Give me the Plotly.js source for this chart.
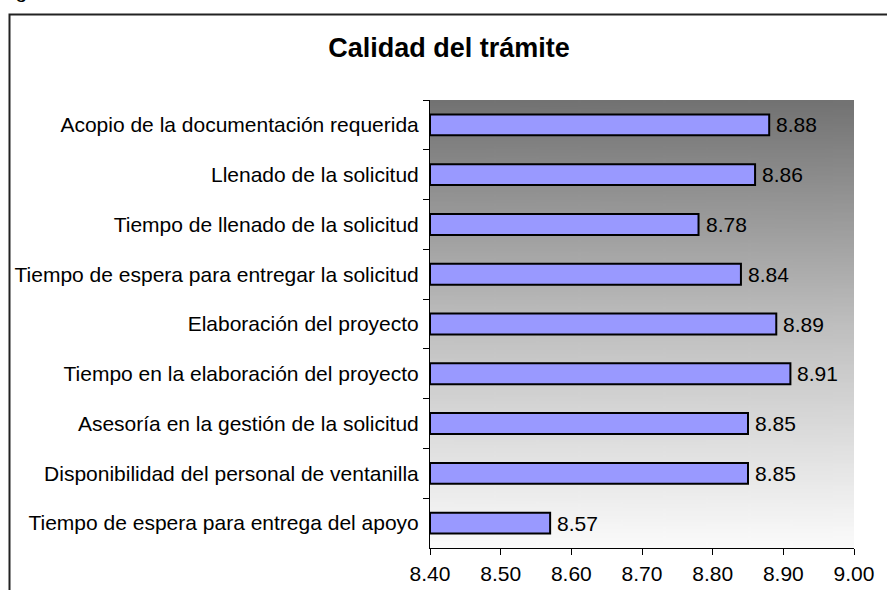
<!DOCTYPE html>
<html><head><meta charset="utf-8">
<script src="https://cdn.plot.ly/plotly-3.0.1.min.js"></script>
<style>html,body{margin:0;padding:0;background:#fff}#chart{width:887px;height:590px}</style>
</head><body><div id="chart"></div>
<script>
const categories = [
  "Acopio de la documentación requerida",
  "Llenado de la solicitud",
  "Tiempo de llenado de la solicitud",
  "Tiempo de espera para entregar la solicitud",
  "Elaboración del proyecto",
  "Tiempo en la elaboración del proyecto",
  "Asesoría en la gestión de la solicitud",
  "Disponibilidad del personal de ventanilla",
  "Tiempo de espera para entrega del apoyo"
];
const values = [8.88, 8.86, 8.78, 8.84, 8.89, 8.91, 8.85, 8.85, 8.57];
const tickVals = [8.4, 8.5, 8.6, 8.7, 8.8, 8.9, 9.0];
const tickText = ["8.40", "8.50", "8.60", "8.70", "8.80", "8.90", "9.00"];
const axisBase = 8.4;

// gradient background image
const cv = document.createElement('canvas');
cv.width = 10; cv.height = 200;
const ctx = cv.getContext('2d');
const g = ctx.createLinearGradient(0, 0, 0, 200);
g.addColorStop(0, '#727272');
g.addColorStop(0.5, '#bebebe');
g.addColorStop(1, '#fbfbfb');
ctx.fillStyle = g; ctx.fillRect(0, 0, 10, 200);
const bg = cv.toDataURL();

const L = 430, R = 33, T = 100, B = 42, W = 887, H = 590;
const pw = W - L - R, ph = H - T - B;
const px = x => (x - L) / pw;
const py = y => 1 - (y - T) / ph;
const FONT = 'Liberation Sans, Arial, sans-serif';

const trace = {
  type: 'bar', orientation: 'h',
  x: values.map(v => v - axisBase), y: categories,
  base: axisBase,
  width: 0.42,
  marker: {color: '#9999ff', line: {color: '#000', width: 2}},
  hoverinfo: 'none'
};

const valueLabels = values.map((v, i) => ({
  x: v, y: categories[i], xref: 'x', yref: 'y', text: v.toFixed(2),
  xanchor: 'left', yanchor: 'middle', xshift: 5, showarrow: false,
  font: {family: FONT, size: 21, color: '#000'}
}));

const layout = {
  width: W, height: H,
  margin: {l: L, r: R, t: T, b: B, pad: 0},
  paper_bgcolor: '#fff',
  plot_bgcolor: 'rgba(0,0,0,0)',
  font: {family: FONT, size: 21, color: '#000'},
  showlegend: false,
  title: {text: '<b>Calidad del trámite</b>', font: {size: 27, color: '#000'}, x: px(449), xref: 'paper', xanchor: 'center', y: 1 - 48/H, yanchor: 'middle'},
  xaxis: {range: [8.4, 9.0], tickvals: tickVals, ticktext: tickText, showgrid: false, zeroline: false,
    showline: true, linecolor: '#000', linewidth: 1, ticks: 'outside', ticklen: 6, tickcolor: '#000',
    tickfont: {size: 21}, ticklabelstandoff: 1, fixedrange: true},
  yaxis: {autorange: 'reversed', showgrid: false, zeroline: false, showline: true, linecolor: '#000', linewidth: 1,
    ticks: 'outside', ticklen: 6, tickcolor: '#000', tickson: 'boundaries', ticklabelstandoff: 6,
    tickfont: {size: 21}, fixedrange: true},
  images: [{source: bg, xref: 'paper', yref: 'paper', x: 0, y: 1, sizex: 1, sizey: 1,
    sizing: 'stretch', xanchor: 'left', yanchor: 'top', layer: 'below'}],
  shapes: [{type: 'path', xref: 'paper', yref: 'paper',
    path: `M ${px(9.5)} ${py(600)} L ${px(9.5)} ${py(14.5)} L ${px(900)} ${py(14.5)}`,
    line: {color: '#222', width: 2}}],
  annotations: valueLabels.concat([{text: 'Fig', xref: 'paper', yref: 'paper', x: px(-4), y: py(-10), xanchor: 'left', yanchor: 'middle',
    showarrow: false, font: {size: 21}}])
};
Plotly.newPlot('chart', [trace], layout, {staticPlot: true});
</script></body></html>
